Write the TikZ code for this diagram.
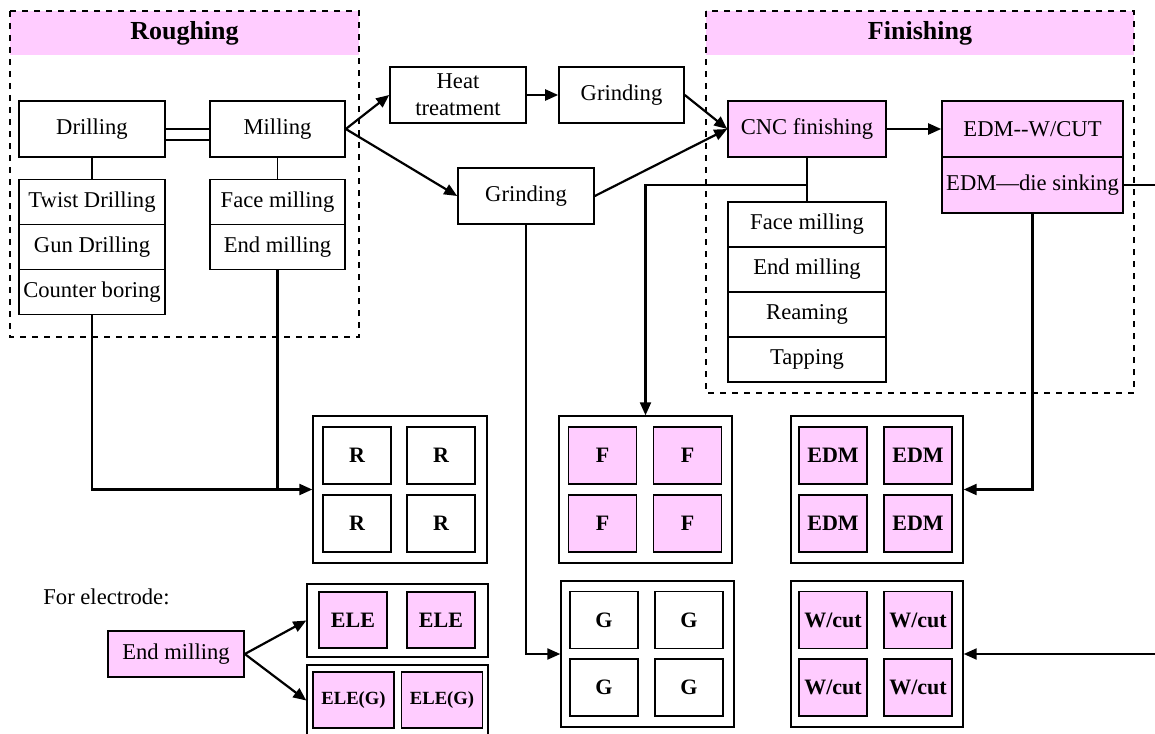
\documentclass[tikz,border=0pt]{standalone}
\usepackage{fontspec}
\setmainfont{Liberation Serif}
\usetikzlibrary{arrows.meta}
\definecolor{pinkfill}{HTML}{FFCCFF}
\tikzset{
  stepbox/.style={draw, line width=0.8pt, inner sep=0pt, align=center, minimum height=28pt},
  pinkbox/.style={stepbox, fill=pinkfill},
  listbox/.style={draw, line width=0.8pt, inner sep=0pt, minimum height=22.5pt},
  partbox/.style={draw, line width=0.8pt, inner sep=0pt, minimum width=34pt, minimum height=28.5pt,
    font=\fontsize{11}{13}\selectfont\bfseries},
  traybox/.style={draw, line width=0.7pt, inner sep=0pt},
  phase/.style={draw, dashed, line width=0.7pt},
  title/.style={font=\fontsize{13}{15}\selectfont\bfseries},
  link/.style={line width=1.1pt},
  flow/.style={link, -{Triangle[length=6.5pt,width=5.5pt]}},
}
\begin{document}
\begin{tikzpicture}[x=0.5pt, y=-0.5pt, font=\fontsize{11.3}{13.5}\selectfont]
  \useasboundingbox (0,0) rectangle (1155,733);

  %%%%% phases %%%%%
  \fill[pinkfill] (10,11) rectangle (359,55);
  \draw[phase] (10,11) rectangle (359,337);
  \node[title] (rough) at (184.5,33) {Roughing};
  \fill[pinkfill] (706,11) rectangle (1134,55);
  \draw[phase] (706,11) rectangle (1134,393);
  \node[title] (finish) at (920,33) {Finishing};

  %%%%% roughing %%%%%
  \node[stepbox, minimum width=73pt] (drill) at (92,129) {Drilling};
  \node[stepbox, minimum width=67.5pt] (mill) at (277.5,129) {Milling};
  \node[listbox, minimum width=73pt] (twist) at (92,202) {Twist Drilling};
  \node[listbox, minimum width=73pt] (gun) at (92,247) {Gun Drilling};
  \node[listbox, minimum width=73pt] (cbore) at (92,292) {Counter boring};
  \node[listbox, minimum width=67.5pt] (rface) at (277.5,202) {Face milling};
  \node[listbox, minimum width=67.5pt] (rend) at (277.5,247) {End milling};
  \draw[line width=0.8pt] (drill.east) -- (mill.west);
  \draw[line width=0.8pt] ([yshift=-5.5pt]drill.east) -- ([yshift=-5.5pt]mill.west);
  \draw[line width=0.8pt] (drill) -- (twist);
  \draw[line width=0.8pt] (mill) -- (rface);

  %%%%% middle %%%%%
  \node[stepbox, minimum width=68pt] (heat) at (458,95) {Heat\\treatment};
  \node[stepbox, minimum width=62.5pt] (grindA) at (621.5,95) {Grinding};
  \node[stepbox, minimum width=68pt] (grindB) at (526,196) {Grinding};
  \draw[flow] (mill.east) -- (heat.west);
  \draw[flow] (mill.east) -- (grindB.west);
  \draw[flow] (heat) -- (grindA);

  %%%%% finishing %%%%%
  \node[pinkbox, minimum width=79pt] (cnc) at (807,129) {CNC finishing};
  \node[pinkbox, minimum width=90.5pt] (wcut) at (1032.5,129) {EDM-{}-W/CUT};
  \node[pinkbox, minimum width=90.5pt] (sink) at (1032.5,185) {EDM—die sinking};
  \node[listbox, minimum width=79pt] (fface) at (807,224.5) {Face milling};
  \node[listbox, minimum width=79pt] (fend) at (807,269.5) {End milling};
  \node[listbox, minimum width=79pt] (ream) at (807,314.5) {Reaming};
  \node[listbox, minimum width=79pt] (tap) at (807,359.5) {Tapping};
  \draw[flow] (grindA.east) -- (cnc.west);
  \draw[flow] (grindB.east) -- (cnc.west);
  \draw[flow] (cnc) -- (wcut);
  \draw[line width=0.8pt] (cnc) -- (fface);

  %%%%% trays %%%%%
  \node[traybox, minimum width=87pt, minimum height=73.5pt] (rtray) at (400,489.5) {};
  \foreach \cx/\cy [count=\i] in {357/455.5,441/455.5,357/523.5,441/523.5}
    \node[partbox] (r\i) at (\cx,\cy) {R};
  \node[traybox, minimum width=86.5pt, minimum height=73.5pt] (ftray) at (645.5,489.5) {};
  \foreach \cx/\cy [count=\i] in {602.5/455.5,687.5/455.5,602.5/523.5,687.5/523.5}
    \node[partbox, fill=pinkfill] (f\i) at (\cx,\cy) {F};
  \node[traybox, minimum width=86pt, minimum height=73.5pt] (etray) at (877,489.5) {};
  \foreach \cx/\cy [count=\i] in {833/455.5,918/455.5,833/523.5,918/523.5}
    \node[partbox, fill=pinkfill] (e\i) at (\cx,\cy) {EDM};
  \node[traybox, minimum width=86.5pt, minimum height=73pt] (gtray) at (647.5,654) {};
  \foreach \cx/\cy [count=\i] in {604/620,689/620,604/687.5,689/687.5}
    \node[partbox] (g\i) at (\cx,\cy) {G};
  \node[traybox, minimum width=86pt, minimum height=73pt] (wtray) at (877,654) {};
  \foreach \cx/\cy [count=\i] in {833/620,918/620,833/687.5,918/687.5}
    \node[partbox, fill=pinkfill] (w\i) at (\cx,\cy) {W/cut};

  %%%%% electrode %%%%%
  \node[anchor=west, inner sep=0pt] (forele) at (43,597) {For electrode:};
  \node[pinkbox, minimum width=68pt, minimum height=23pt] (emill) at (176,654) {End milling};
  \node[traybox, minimum width=90.5pt, minimum height=36.5pt] (eletray) at (397.5,620.5) {};
  \foreach \cx [count=\i] in {353,441}
    \node[partbox, fill=pinkfill, minimum height=28pt] (ele\i) at (\cx,620) {ELE};
  \node[traybox, minimum width=90.5pt, minimum height=35.5pt] (elegtray) at (397.5,700.5) {};
  \foreach \cx [count=\i] in {353.5,442}
    \node[partbox, fill=pinkfill, minimum width=40.5pt, minimum height=28pt,
      font=\fontsize{9.3}{11}\selectfont\bfseries] (eleg\i) at (\cx,700) {ELE(G)};
  \draw[flow] (emill.east) -- (eletray.west);
  \draw[flow] (emill.east) -- (elegtray.west);

  %%%%% feeds %%%%%
  \draw[flow] (cbore.south) |- (rtray.west);
  \draw[link] (rend.south) -- (rend.south |- rtray.west);
  \coordinate (fjoin) at (807,185);
  \draw[flow] (fjoin) -| (ftray.north);
  \draw[flow] (grindB.south) |- (gtray.west);
  \draw[flow] (sink.south) |- (etray.east);
  \coordinate (edgeA) at (1155,185);
  \coordinate (edgeB) at (1155,654);
  \draw[link] (sink.east) -- (edgeA);
  \draw[flow] (edgeB) -- (wtray.east);
\end{tikzpicture}
\end{document}
